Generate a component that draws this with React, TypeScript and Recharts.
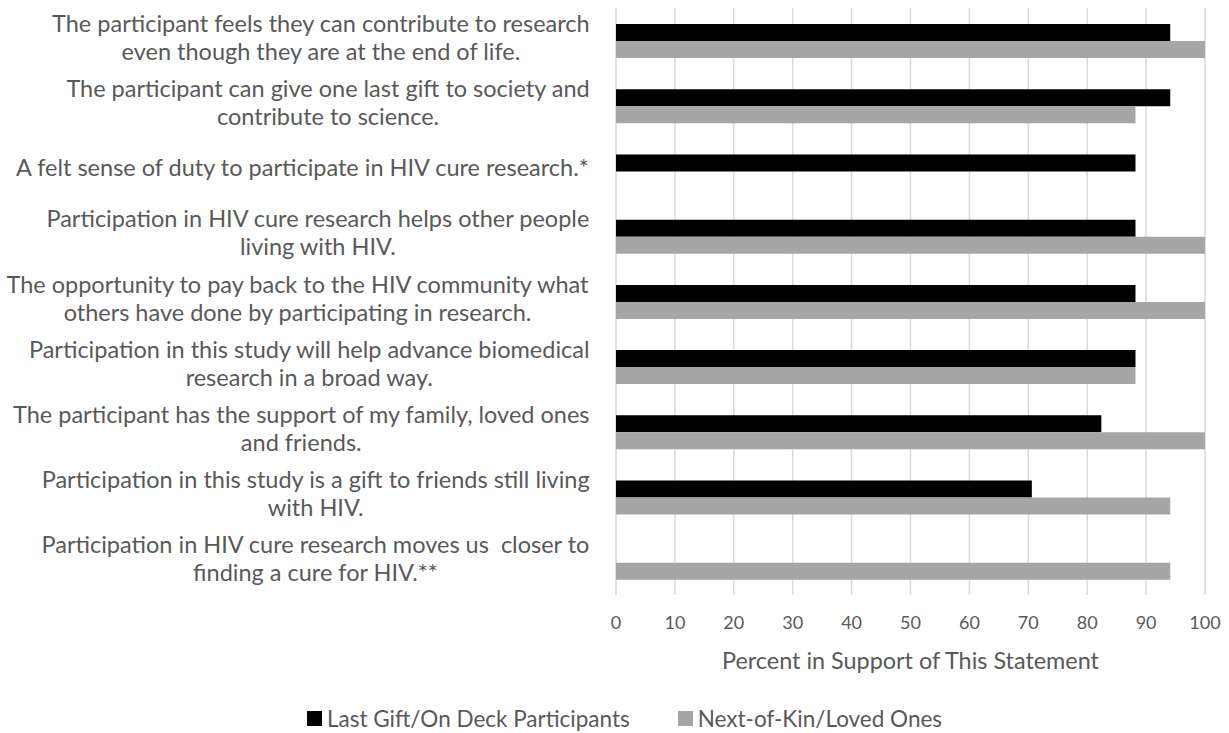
import { BarChart, Bar, XAxis, YAxis, CartesianGrid, Legend } from 'recharts';

const categories = [
  'The participant feels they can contribute to research\neven though they are at the end of life.',
  'The participant can give one last gift to society and\ncontribute to science.',
  'A felt sense of duty to participate in HIV cure research.*',
  'Participation in HIV cure research helps other people\nliving with HIV.',
  'The opportunity to pay back to the HIV community what\nothers have done by participating in research.',
  'Participation in this study will help advance biomedical\nresearch in a broad way.',
  'The participant has the support of my family, loved ones\nand friends.',
  'Participation in this study is a gift to friends still living\nwith HIV.',
  'Participation in HIV cure research moves us  closer to\nfinding a cure for HIV.**',
];

const lastGift = [94.1, 94.1, 88.2, 88.2, 88.2, 88.2, 82.4, 70.6, null];
const nextOfKin = [100, 88.2, null, 100, 100, 88.2, 100, 94.1, 94.1];

const xTicks = [0, 10, 20, 30, 40, 50, 60, 70, 80, 90, 100];

const data = categories.map((c, i) => ({ name: c, lastGift: lastGift[i], nextOfKin: nextOfKin[i] }));

const FONT = 'Lato, sans-serif';
const TEXT = '#595959';

let ctx: CanvasRenderingContext2D | null = null;
function measure(s: string, size: number) {
  if (!ctx) ctx = document.createElement('canvas').getContext('2d');
  if (!ctx) return s.length * size * 0.5;
  ctx.font = `${size}px Lato`;
  return ctx.measureText(s).width;
}

function CategoryTick(props: any) {
  const { x, y, payload } = props;
  const lines: string[] = String(payload.value).split('\n');
  const size = 23.5;
  const w = Math.max(...lines.map((l) => measure(l, size)));
  const cx = x - w / 2;
  const lh = 28;
  const start = y - 4 - ((lines.length - 1) * lh) / 2;
  return (
    <text fontFamily={FONT} fontSize={size} fill={TEXT} textAnchor="middle" xmlSpace="preserve">
      {lines.map((l, i) => (
        <tspan key={i} x={cx} y={start + i * lh} dominantBaseline="central">
          {l}
        </tspan>
      ))}
    </text>
  );
}

function renderLegend(props: any) {
  const { payload } = props;
  return (
    <div
      style={{
        display: 'flex',
        justifyContent: 'center',
        alignItems: 'center',
        gap: 48,
        height: 58,
        paddingTop: 28,
        paddingLeft: 44,
        boxSizing: 'border-box',
        fontFamily: FONT,
        fontSize: 22.5,
        color: TEXT,
      }}
    >
      {payload.map((p: any) => (
        <div key={p.value} style={{ display: 'flex', alignItems: 'center', gap: 5 }}>
          <span style={{ width: 15, height: 15, background: p.color, display: 'inline-block' }} />
          <span>{p.value}</span>
        </div>
      ))}
    </div>
  );
}

export default function App() {
  return (
    <div style={{ position: 'absolute', left: 0, top: 0, background: '#fff' }}>
      <BarChart
        width={1229}
        height={733}
        data={data}
        layout="vertical"
        margin={{ top: 8, right: 24, bottom: 0, left: 0 }}
        barGap={0}
      >
        <CartesianGrid horizontal={false} stroke="#d9d9d9" strokeWidth={1.5} />
        <XAxis
          type="number"
          domain={[0, 100]}
          ticks={xTicks}
          interval={0}
          axisLine={false}
          tickLine={false}
          tickSize={0}
          tickMargin={21}
          height={80}
          tick={{ fontFamily: FONT, fontSize: 18, fill: TEXT }}
          label={{
            value: 'Percent in Support of This Statement',
            position: 'insideBottom',
            offset: 6,
            style: { fontFamily: FONT, fontSize: 23.4, fill: TEXT },
          }}
        />
        <YAxis
          type="category"
          dataKey="name"
          width={616}
          axisLine={false}
          tickLine={false}
          tickSize={0}
          tickMargin={26}
          interval={0}
          tick={<CategoryTick />}
        />
        <Legend verticalAlign="bottom" content={renderLegend} />
        <Bar dataKey="lastGift" name="Last Gift/On Deck Participants" fill="#000000" barSize={17} isAnimationActive={false} />
        <Bar dataKey="nextOfKin" name="Next-of-Kin/Loved Ones" fill="#a6a6a6" barSize={17} isAnimationActive={false} />
      </BarChart>
    </div>
  );
}
